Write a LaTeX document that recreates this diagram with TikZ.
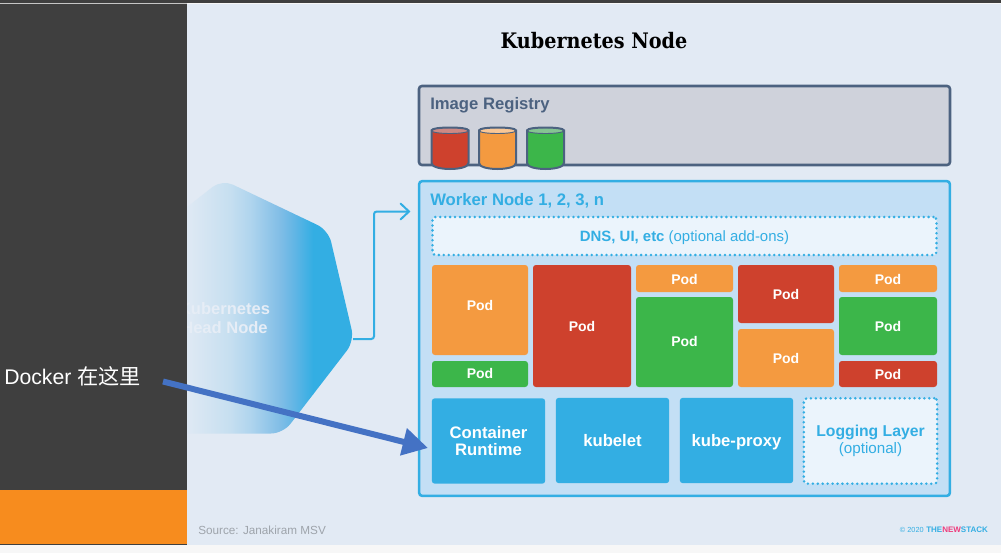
\documentclass[tikz,border=0pt]{standalone}
\usepackage{fontspec}
\setmainfont{Liberation Sans}
\newfontfamily\slabfont{DejaVu Serif Condensed}
\newfontfamily\cjkfont{Noto Sans CJK SC}
\usetikzlibrary{arrows.meta,calc}
\definecolor{bgslide}{HTML}{E2EAF4}
\definecolor{panel}{HTML}{3F3F3F}
\definecolor{panelorange}{HTML}{F78C1E}
\definecolor{kblue}{HTML}{33AEE3}
\definecolor{slate}{HTML}{4C6280}
\definecolor{reggray}{HTML}{CFD2DB}
\definecolor{workerbg}{HTML}{C3DFF5}
\definecolor{optbg}{HTML}{EBF4FC}
\definecolor{podred}{HTML}{CE412D}
\definecolor{podorange}{HTML}{F49A40}
\definecolor{podgreen}{HTML}{3CB64A}
\definecolor{arrowblue}{HTML}{4472C4}
\definecolor{pink}{HTML}{EE3C7C}
\definecolor{hs0}{HTML}{DFE9F4}
\definecolor{hs1}{HTML}{C6DFF0}
\definecolor{hs2}{HTML}{B0D5EE}
\definecolor{hs3}{HTML}{80BDE6}
\definecolor{hs4}{HTML}{5FB5E5}
% 187px -> 25bp, 313px -> 75bp
\pgfdeclarehorizontalshading{headshade}{100bp}{
 color(0bp)=(hs0);
 color(25bp)=(hs0);
 color(42bp)=(hs1);
 color(50bp)=(hs2);
 color(62bp)=(hs3);
 color(68bp)=(hs4);
 color(75bp)=(kblue);
 color(100bp)=(kblue)}
\tikzset{
 x=0.75pt,y=-0.75pt,
 pod/.style={rounded corners=2.2pt,inner sep=0pt,font=\fontsize{10.5}{12}\selectfont\bfseries,text=white,minimum width=#1},
 bluebox/.style={pod=#1,fill=kblue,font=\fontsize{12.5}{13}\selectfont\bfseries,align=center},
 optbox/.style={rounded corners=2.2pt,inner sep=0pt,fill=optbg,draw=kblue,line width=2.1pt,dash pattern=on 0pt off 3.7pt,line cap=round,text=kblue,align=center},
 heading/.style={anchor=west,inner sep=0pt,font=\fontsize{12.5}{14}\selectfont\bfseries},
 smalltext/.style={anchor=west,inner sep=0pt,font=\fontsize{8.8}{10}\selectfont},
 frame/.style={rounded corners=2.2pt,line width=1.9pt},
}
\newcommand{\podbox}[7][0pt]{% raise; name, x0, y0, x1, y1, colour
 \path let \n1={(#5-#3)*0.75pt},\n2={(#6-#4)*0.75pt} in
  node[pod=\n1,minimum height=\n2,fill=#7] (#2) at ({(#3+#5)/2},{(#4+#6)/2}) {\raisebox{#1}[7.5pt][0pt]{Pod}};}
\newcommand{\tube}[3]{% x0, body colour, lid colour
 \draw[fill=#2,draw=slate,line width=1.5pt] (#1,130.5) -- (#1,163) .. controls (#1,171) and (#1+37,171) .. (#1+37,163) -- (#1+37,130.5) -- cycle;
 \draw[fill=#3,draw=slate,line width=0.7pt] (#1,130.5) .. controls (#1,134.5) and (#1+37,134.5) .. (#1+37,130.5) .. controls (#1+37,126.5) and (#1,126.5) .. (#1,130.5) -- cycle;
 \draw[draw=slate,line width=1.5pt] (#1,130.5) .. controls (#1,126.5) and (#1+37,126.5) .. (#1+37,130.5);}
\begin{document}
\begin{tikzpicture}
\useasboundingbox (0,0) rectangle (1001,553);
\fill[white!97!black] (0,0) rectangle (1001,553);
\fill[bgslide] (187,3.5) rectangle (1001,545);
\fill[panel] (0,0) rectangle (1001,3);
% head node
\begin{scope}
 \clip[rounded corners=9pt] (120,260) -- (222,179.5) -- (328.4,230.2) -- (354.3,341) -- (283,433.5) -- (120,433.5) -- cycle;
 \shade[shading=headshade] (187,170) rectangle (313,440);
 \fill[kblue] (312.8,170) rectangle (360,440);
\end{scope}
\coordinate (headtip) at (353,339);
\node[inner sep=0pt,align=center,text=bgslide!85!white,font=\fontsize{12.4}{14.3}\selectfont\bfseries] (headlabel) at (224.5,318) {Kubernetes\\Head Node};
\coordinate (workerin) at (409,211.5);
% left panel
\fill[panel] (0,3) rectangle (187,490);
\fill[white!70!panel] (0,3) rectangle (187,4);
\fill[panelorange] (0,490) rectangle (187,544);
\fill[panel] (0,544) rectangle (187,545);
% title
\node[inner sep=0pt,font=\slabfont\fontsize{16}{18}\selectfont\bfseries] (title) at (594,41) {Kubernetes Node};
% registry
\draw[frame,draw=slate,fill=reggray] (419,86) rectangle (950,165);
\node[heading,text=slate] (reglabel) at (430,105.5) {Image Registry};
\tube{431.5}{podred}{podred!50!reggray}
\tube{479}{podorange}{podorange!55!white}
\tube{527}{podgreen}{podgreen!50!reggray}
% worker
\node[frame,draw=kblue,fill=workerbg,minimum width=398pt,minimum height=236pt,inner sep=0pt] (worker) at (684.5,338.5) {};
\node[heading,text=kblue] (workerlabel) at (430,201) {Worker Node 1, 2, 3, n};
\draw[kblue,line width=1.5pt,rounded corners=2pt] (headtip) -- (374,339) -- (374,211.5) -- (workerin);
\draw[kblue,line width=1.5pt,line cap=round] (400.5,203.5) -- (workerin) -- (400.5,219.5);
\node[optbox,minimum width=378pt,minimum height=28.5pt] (dns) at (684.5,236) {\fontsize{11.2}{12}\selectfont\raisebox{0pt}[\height][0pt]{\textbf{DNS, UI, etc} (optional add-ons)}};
\podbox[3.7pt]{p1}{432}{265}{528}{355}{podorange}
\podbox[0.7pt]{p2}{432}{361}{528}{387}{podgreen}
\podbox{p3}{533}{265}{631}{387}{podred}
\podbox[-1.1pt]{p4}{636}{265}{733}{292}{podorange}
\podbox[0.7pt]{p5}{636}{297}{733}{387}{podgreen}
\podbox[-0.7pt]{p6}{738}{265}{834}{323}{podred}
\podbox[-0.7pt]{p7}{738}{329}{834}{387}{podorange}
\podbox[-1.1pt]{p8}{839}{265}{937}{292}{podorange}
\podbox[-0.7pt]{p9}{839}{297}{937}{355}{podgreen}
\podbox{p10}{839}{361}{937}{387}{podred}
\node[bluebox=85pt,minimum height=64pt] (runtime) at (488.5,441) {Container\\Runtime};
\node[bluebox=85pt,minimum height=64pt] (kubelet) at (612.5,440.5) {kubelet};
\node[bluebox=85pt,minimum height=64pt] (proxy) at (736.5,440.5) {\raisebox{0pt}[\height][0pt]{kube-proxy}};
\node[optbox,minimum width=100pt,minimum height=64pt] (logging) at (870.5,441) {{\fontsize{11.8}{13}\selectfont\bfseries Logging Layer}\\[0.5pt]{\fontsize{11.4}{12}\selectfont (optional)}};
% footer
\node[smalltext,text=black!30!bgslide] (source) at (198,530) {Source: Janakiram MSV};
\node[inner sep=0pt,anchor=east,font=\fontsize{5.5}{7}\selectfont,text=kblue] (copy) at (924,530) {© 2020};
\node[inner sep=0pt,anchor=west,font=\fontsize{6}{7}\selectfont\bfseries] (brand) at (926,530) {\textcolor{kblue}{THE}\textcolor{pink}{NEW}\textcolor{kblue}{STACK}};
% docker
\node[inner sep=0pt,anchor=west,text=white,font=\fontsize{15.9}{18}\selectfont] (docker) at (4,376) {Docker {\cjkfont 在这里}};
\coordinate (arrowstart) at (163,381.5);
\draw[arrowblue,line width=4.5pt,-{Triangle[length=19pt,width=20pt]}] (arrowstart) -- (428,448);
\end{tikzpicture}
\end{document}
